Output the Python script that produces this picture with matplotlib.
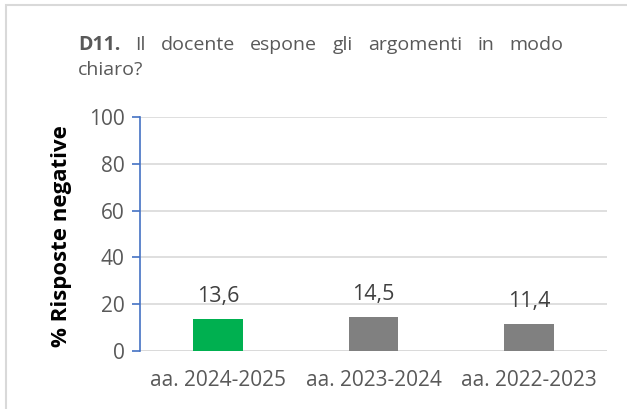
import matplotlib
matplotlib.use("Agg")
import matplotlib.pyplot as plt
from matplotlib.patches import Rectangle

categories = ["aa. 2024-2025", "aa. 2023-2024", "aa. 2022-2023"]
values = [13.6, 14.5, 11.4]
value_labels = ["13,6", "14,5", "11,4"]
bar_colors = ["#00B050", "#808080", "#808080"]
yticks = [0, 20, 40, 60, 80, 100]
title_bold = "D11."
title_line1 = ["Il", "docente", "espone", "gli", "argomenti", "in", "modo"]
title_line2 = "chiaro?"
ylabel = "% Risposte negative"

FONT = "Open Sans"
TXT = "#595959"
W, H = 627, 409
fig = plt.figure(figsize=(W / 100, H / 100), dpi=100)

# outer frame
fig.patches.append(Rectangle((6 / W, -0.05), 1.2, (H - 5) / H + 0.05, transform=fig.transFigure,
                             fill=False, edgecolor="#D9D9D9", linewidth=1.5))

ax = fig.add_axes([140 / W, 1 - 351 / H, (607 - 140) / W, (351 - 117) / H])
x = list(range(len(categories)))
ax.bar(x, values, width=0.32, color=bar_colors, zorder=3)
ax.set_xlim(-0.5, 2.5)
ax.set_ylim(0, 100)
ax.set_yticks(yticks)
ax.set_yticklabels([str(v) for v in yticks], fontsize=15, color=TXT, family=FONT)
ax.set_xticks(x)
ax.set_xticklabels(categories, fontsize=15, color=TXT, family=FONT)
ax.tick_params(axis="x", length=0, pad=14)
ax.tick_params(axis="y", length=6, width=1.2, color="#4472C4", pad=5)
ax.grid(axis="y", color="#D9D9D9", linewidth=1.2, zorder=0)
for s in ["top", "right", "bottom"]:
    ax.spines[s].set_visible(False)
ax.spines["left"].set_color("#4472C4")
ax.spines["left"].set_linewidth(1.2)
ax.axhline(0, color="#D9D9D9", linewidth=1.2, zorder=1)

for xi, v, lab in zip(x, values, value_labels):
    ax.annotate(lab, (xi, v), xytext=(0, 9), textcoords="offset points", ha="center", va="bottom",
                fontsize=15.5, color="#404040", family=FONT)

fig.text(62 / W, 1 - 236 / H, ylabel, rotation=90, ha="center", va="center", fontsize=16,
         fontweight="bold", color="black", family=FONT)

# justified title
fig.canvas.draw()
r = fig.canvas.get_renderer()
left, right = 78, 563
y1 = 1 - 50 / H
y2 = 1 - 75 / H
words = [(title_bold, "bold")] + [(w, "normal") for w in title_line1]
txts = []
for w, fw in words:
    t = fig.text(0, y1, w, fontsize=14, fontweight=fw, color=TXT, family=FONT, va="baseline")
    txts.append(t)
widths = [t.get_window_extent(r).width for t in txts]
gap = (right - left - sum(widths)) / (len(words) - 1)
pos = left
for t, wdt in zip(txts, widths):
    t.set_x(pos / W)
    pos += wdt + gap
fig.text(left / W, y2, title_line2, fontsize=14, color=TXT, family=FONT, va="baseline")

fig.savefig("out.png", dpi=100)
